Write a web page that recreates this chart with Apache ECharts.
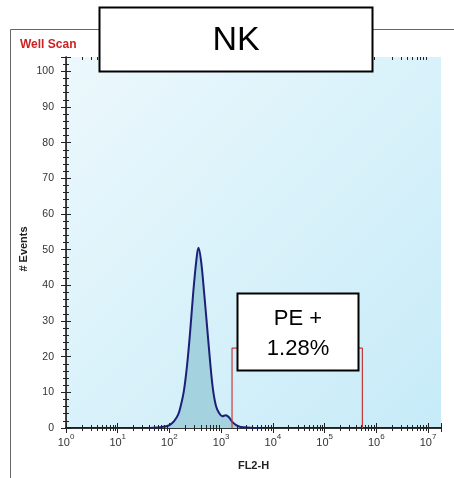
<!DOCTYPE html>
<html><head><meta charset="utf-8">
<script src="https://cdn.jsdelivr.net/npm/echarts@6/dist/echarts.min.js"></script>
<style>html,body{margin:0;padding:0;background:#fff}#c{width:454px;height:478px}</style>
</head><body><div id="c"></div>
<script>
const titleText = 'NK';
const headerText = 'Well Scan';
const gateLabel = ['PE +', '1.28%'];
const xName = 'FL2-H';
const yName = '# Events';
// x = log10(FL2-H), y = # events
const logFL2 = [1.62,1.72,1.82,1.91,2.01,2.09,2.17,2.22,2.28,2.34,2.40,2.46,2.52,2.56,2.61,2.67,2.73,2.79,2.84,2.90,2.96,3.02,3.09,3.15,3.21,3.29,3.38,3.56,3.75];
const events = [0,0.1,0.2,0.4,0.9,1.9,3.8,6.3,10.5,17.5,27,38,47,50.5,47,38,28,18,11,6.2,4.2,3.3,3.6,3,1.8,0.8,0.3,0.1,0];
// gate bounds (log10 FL2-H) and marker height
const gateLog = [3.21, 5.73];
const gateHeight = 22.4;
const xExponents = [0,1,2,3,4,5,6,7];
const xMax = 7.25, yMax = 104;

const FONT = '"Liberation Sans", Arial, sans-serif';
const curve = logFL2.map((x, i) => [x, events[i]]);
const gate = [[gateLog[0],0],[gateLog[0],gateHeight],[gateLog[1],gateHeight],[gateLog[1],0]];
const minorX = [];
xExponents.slice(0, -1).forEach(n => { for (let k = 2; k <= 9; k++) minorX.push([n + Math.log10(k), 0]); });

const chart = echarts.init(document.getElementById('c'));
const baseX = {type:'value', min:0, max:xMax, interval:1, splitLine:{show:false}};
const baseY = {type:'value', min:0, max:yMax, interval:10, splitLine:{show:false}};
chart.setOption({
  animation:false,
  grid:{left:66, top:57, width:375, height:371, show:true, borderWidth:0,
    backgroundColor:new echarts.graphic.LinearGradient(0,0,1,1,[{offset:0,color:'#ecf8fc'},{offset:1,color:'#c6ebf8'}])},
  xAxis:[
    Object.assign({}, baseX, {position:'bottom',
      axisLine:{show:true, lineStyle:{color:'#1a1a3a', width:2}},
      axisTick:{show:true, inside:false, length:5, lineStyle:{color:'#222', width:1}},
      axisLabel:{show:true, margin:5, showMaxLabel:false,
        formatter:v => { const e = Math.round(v); if (Math.abs(v - e) > 1e-6 || xExponents.indexOf(e) < 0) return ''; return '{b|10}{s|' + e + '}'; },
        rich:{b:{fontSize:11, fontFamily:FONT, color:'#333', lineHeight:15, verticalAlign:'bottom'},
              s:{fontSize:8, fontFamily:FONT, color:'#333', lineHeight:15, verticalAlign:'top'}}},
      name:xName, nameLocation:'middle', nameGap:32,
      nameTextStyle:{fontWeight:'bold', fontSize:11, fontFamily:FONT, color:'#222'}}),
    Object.assign({}, baseX, {position:'bottom', axisLine:{show:false},
      axisTick:{show:true, inside:true, length:5, lineStyle:{color:'#222', width:1}}, axisLabel:{show:false}}),
    Object.assign({}, baseX, {position:'top', axisLine:{show:true, lineStyle:{color:'#333', width:1}},
      axisTick:{show:true, inside:true, length:4, lineStyle:{color:'#222', width:1}}, axisLabel:{show:false}})
  ],
  yAxis:[
    Object.assign({}, baseY, {position:'left',
      axisLine:{show:true, lineStyle:{color:'#111', width:1.5}},
      axisTick:{show:true, inside:false, length:5, lineStyle:{color:'#222', width:1}},
      minorTick:{show:true, splitNumber:5, length:3, lineStyle:{color:'#222', width:1}},
      axisLabel:{show:true, margin:12, fontSize:10.5, fontFamily:FONT, color:'#333', showMaxLabel:false}}),
    Object.assign({}, baseY, {position:'left', axisLine:{show:false},
      axisTick:{show:true, inside:true, length:5, lineStyle:{color:'#222', width:1}},
      minorTick:{show:true, splitNumber:5, length:3, lineStyle:{color:'#222', width:1}},
      axisLabel:{show:false}}),
    Object.assign({}, baseY, {position:'right', axisLine:{show:true, lineStyle:{color:'#333', width:1}},
      axisTick:{show:true, inside:true, length:4, lineStyle:{color:'#222', width:1}},
      minorTick:{show:true, splitNumber:5, length:3, lineStyle:{color:'#222', width:1}},
      axisLabel:{show:false}})
  ],
  series:[
    {type:'line', data:curve, smooth:0.35, showSymbol:false, symbol:'none', z:3,
      lineStyle:{color:'#1c1f78', width:2}, areaStyle:{color:'#a5d2df', opacity:1}},
    {type:'line', data:gate, showSymbol:false, symbol:'none', z:4,
      lineStyle:{color:'#c83a3a', width:1.2}},
    {type:'custom', data:minorX, z:5, encode:{x:0, y:1},
      renderItem:(params, api) => {
        const x = api.value(0);
        const b = api.coord([x, 0]);
        const t = api.coord([x, yMax]);
        const bx = Math.round(b[0]) + 0.5, tx = Math.round(t[0]) + 0.5;
        return {type:'group', children:[
          {type:'line', shape:{x1:bx, y1:b[1]-3, x2:bx, y2:b[1]+3}, style:{stroke:'#222', lineWidth:1}},
          {type:'line', shape:{x1:tx, y1:t[1], x2:tx, y2:t[1]+3}, style:{stroke:'#222', lineWidth:1}}
        ]};
      }}
  ],
  graphic:[
    {type:'polyline', shape:{points:[[10.5,478],[10.5,29.5],[454,29.5]]}, style:{stroke:'#666', lineWidth:1, fill:null}, z:50},
    {type:'text', x:20, y:45, style:{text:headerText, font:'bold 12px ' + FONT, fill:'#cc2222', verticalAlign:'middle'}, z:50},
    {type:'text', x:24, y:249, rotation:Math.PI/2, style:{text:yName, font:'bold 11px ' + FONT, fill:'#222', align:'center', verticalAlign:'middle'}, z:50},
    {type:'rect', shape:{x:99.5, y:7.5, width:273, height:64}, style:{fill:'#fff', stroke:'#000', lineWidth:2}, z:100},
    {type:'text', x:236, y:41, style:{text:titleText, font:'34px ' + FONT, fill:'#000', align:'center', verticalAlign:'middle'}, z:101},
    {type:'rect', shape:{x:237.5, y:293.5, width:121, height:77}, style:{fill:'#fff', stroke:'#000', lineWidth:2}, z:100},
    {type:'text', x:298, y:319, style:{text:gateLabel[0], font:'22px ' + FONT, fill:'#000', align:'center', verticalAlign:'middle'}, z:101},
    {type:'text', x:298, y:349, style:{text:gateLabel[1], font:'22px ' + FONT, fill:'#000', align:'center', verticalAlign:'middle'}, z:101}
  ]
});
</script></body></html>
